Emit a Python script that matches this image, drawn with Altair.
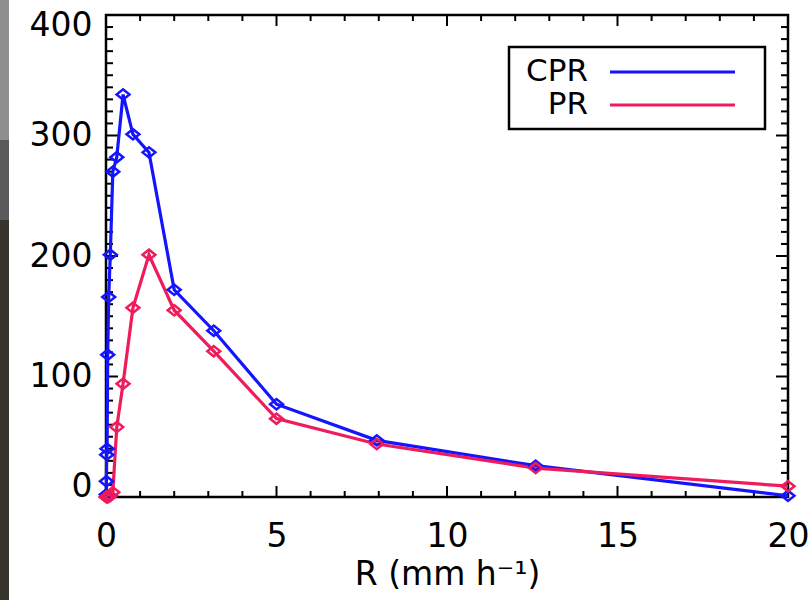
import altair as alt
import pandas as pd

# ---- data ----
rain_rate = [0.008, 0.0126, 0.02, 0.032, 0.05, 0.079, 0.126, 0.2, 0.316, 0.5,
             0.79, 1.26, 2.0, 3.16, 5.0, 7.94, 12.6, 20.0]
cpr_values = [2, 13, 35, 40, 118, 166, 201, 270, 282, 334,
              301, 286, 172, 138, 77, 47, 26, 1]
pr_values = [0, 0, 0, 0, 0, 0, 1, 4, 58, 94,
             157, 201, 155, 121, 65, 44, 24, 9]
series_names = ["CPR", "PR"]
series_colors = ["#1414FF", "#EE1C5A"]

x_tick_labels = [0, 5, 10, 15, 20]
y_tick_labels = [0, 100, 200, 300, 400]

W, H = 682, 482
FONT = "DejaVu Sans"

df = pd.DataFrame({
    "R": rain_rate * 2,
    "value": cpr_values + pr_values,
    "series": [series_names[0]] * len(rain_rate) + [series_names[1]] * len(rain_rate),
})

xs = alt.Scale(domain=[0, 20], nice=False, zero=False, padding=0)
ys = alt.Scale(domain=[0, 400], nice=False, zero=False, padding=0)
col = alt.Color("series:N", scale=alt.Scale(domain=series_names, range=series_colors), legend=None)

base = alt.Chart(df)

lines = base.mark_line(strokeWidth=3.2).encode(
    x=alt.X("R:Q", scale=xs,
            axis=alt.Axis(values=x_tick_labels, ticks=False, domain=False, grid=False,
                          labelFontSize=33, labelFont=FONT, labelColor="black",
                          labelFlush=False,
                          labelPadding=23, title="R (mm h⁻¹)", titleFont=FONT,
                          titleFontSize=33, titleFontWeight="normal", titleColor="black",
                          titlePadding=5)),
    y=alt.Y("value:Q", scale=ys,
            axis=alt.Axis(values=y_tick_labels, ticks=False, domain=False, grid=False,
                          labelFontSize=33, labelFont=FONT, labelColor="black",
                          labelPadding=14, labelFlush=True, labelFlushOffset=6, title=None)),
    color=col,
    detail="series:N",
)

diamond = "M-1,0L0,-0.8L1,0L0,0.8Z"
points = base.mark_point(shape=diamond, filled=False, size=165, strokeWidth=2.5, opacity=1).encode(
    x=alt.X("R:Q", scale=xs), y=alt.Y("value:Q", scale=ys), color=col,
)

# ---- inward ticks on all four sides ----
x_all = pd.DataFrame({"v": list(range(0, 21))})
x_all["major"] = x_all["v"] % 5 == 0
y_all = pd.DataFrame({"v": list(range(0, 401, 10))})
y_all["major"] = y_all["v"] % 100 == 0

def xticks(major):
    d = x_all[x_all["major"] == major]
    L = 11 if major else 6
    b = alt.Chart(d).mark_rule(color="black", strokeWidth=2)
    return (b.encode(x=alt.X("v:Q", scale=xs), y=alt.value(H), y2=alt.value(H - L)) +
            b.encode(x=alt.X("v:Q", scale=xs), y=alt.value(0), y2=alt.value(L)))

def yticks(major):
    d = y_all[y_all["major"] == major]
    L = 12 if major else 7
    b = alt.Chart(d).mark_rule(color="black", strokeWidth=2)
    return (b.encode(y=alt.Y("v:Q", scale=ys), x=alt.value(0), x2=alt.value(L)) +
            b.encode(y=alt.Y("v:Q", scale=ys), x=alt.value(W), x2=alt.value(W - L)))

ticks = xticks(True) + xticks(False) + yticks(True) + yticks(False)

# ---- manual legend (box, labels, line samples) ----
leg = pd.DataFrame({
    "name": series_names,
    "color": series_colors,
    "ty": [57, 90],
})
leg_box = alt.Chart(pd.DataFrame({"a": [0]})).mark_rect(
    fill="white", stroke="black", strokeWidth=2.5).encode(
    x=alt.value(403), x2=alt.value(659), y=alt.value(32), y2=alt.value(114))
leg_text = alt.Chart(leg).mark_text(align="right", baseline="middle", font=FONT,
                                    fontSize=31, color="black").encode(
    text="name:N", x=alt.value(482), y=alt.Y("ty:Q", scale=None))
leg_line = alt.Chart(leg).mark_rule(strokeWidth=3.2).encode(
    x=alt.value(504), x2=alt.value(629), y=alt.Y("ty:Q", scale=None),
    color=alt.Color("color:N", scale=None))

# ---- dark photo strip on the far left edge ----
strip = pd.DataFrame({"y0": [-15, 125, 205], "y1": [125, 205, 585],
                      "c": ["#8e8e8e", "#5a5a5a", "#37342d"]})
strip_l = alt.Chart(strip).mark_rect().encode(
    x=alt.value(-106), x2=alt.value(-97),
    y=alt.Y("y0:Q", scale=None), y2=alt.Y2("y1:Q"),
    color=alt.Color("c:N", scale=None))

chart = alt.layer(strip_l, ticks, lines, points, leg_box, leg_text, leg_line).properties(
    width=W, height=H,
    autosize=alt.AutoSizeParams(type="none"),
    padding={"left": 106, "top": 15, "right": 24, "bottom": 103},
    background="white",
).configure_view(stroke="black", strokeWidth=2.5)

chart.save("out.html", embed_options={"renderer": "svg", "actions": False})
